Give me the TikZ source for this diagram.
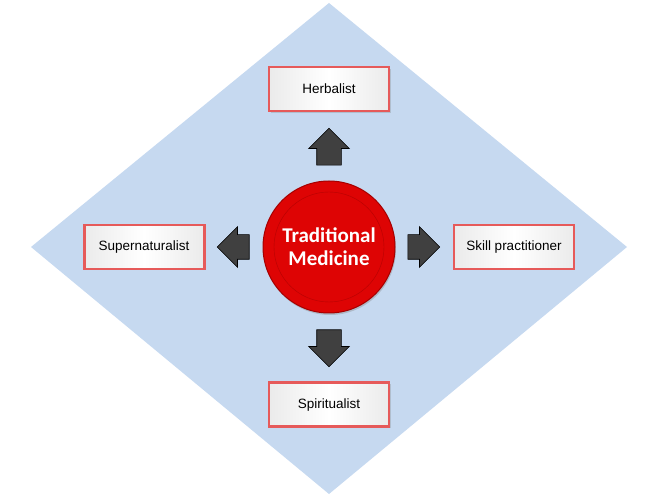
\documentclass[tikz,border=0pt]{standalone}
\usepackage{fontspec}
\setmainfont{Liberation Sans}
\newfontfamily\calibri{Carlito}
\usetikzlibrary{positioning,shapes.arrows,shadows}
\definecolor{diamondblue}{RGB}{198,217,240}
\definecolor{boxred}{RGB}{230,90,90}
\definecolor{discred}{RGB}{222,4,4}
\definecolor{arrowgray}{RGB}{64,64,64}

\begin{document}
\begin{tikzpicture}[x=1pt,y=1pt,node distance=57pt,
  type box/.style={rectangle,draw=boxred,line width=2.8pt,minimum width=120pt,
    minimum height=44pt,inner sep=0pt,left color=black!8,right color=black!8,
    middle color=white,drop shadow={opacity=0.3,shadow xshift=1.5pt,shadow yshift=-1.5pt},
    font=\fontsize{13.5}{15}\selectfont},
  main node/.style={circle,fill=discred,draw=red!65!black,line width=1pt,minimum size=132pt,
    drop shadow={opacity=0.35,shadow xshift=1pt,shadow yshift=-2pt},
    path picture={\draw[red!55!black,line width=0.4pt,opacity=0.5]
      (path picture bounding box.center) circle (55pt);},
    text=white,align=center,font=\calibri\bfseries\fontsize{21}{23}\selectfont},
  block arrow/.style={single arrow,fill=arrowgray,draw=black,line width=0.6pt,
    inner xsep=0pt,inner ysep=12pt,single arrow head extend=8pt,minimum height=37pt}]
   \useasboundingbox (0,0) rectangle (659,501);
   % background diamond
   \fill[diamondblue] (329,498) -- (627,254) -- (329,7) -- (31,254) -- cycle;
   \node[main node] (tm) at (329,254) {Traditional\\Medicine};
   \node[type box] (herb)   [above=68pt of tm] {Herbalist};
   \node[type box] (super)  [left=of tm]       {Supernaturalist};
   \node[type box] (skill)  [right=of tm]      {Skill practitioner};
   \node[type box] (spirit) [below=68pt of tm] {Spiritualist};
   % arrows from the centre
   \node[block arrow,rotate=90,above=15pt of tm,anchor=tail]  (up) {};
   \node[block arrow,rotate=180,minimum height=32pt,left=13pt of tm,anchor=tail] (left) {};
   \node[block arrow,minimum height=32pt,right=12pt of tm,anchor=tail] (right) {};
   \node[block arrow,rotate=270,below=16pt of tm,anchor=tail] (down) {};
\end{tikzpicture}
\end{document}
